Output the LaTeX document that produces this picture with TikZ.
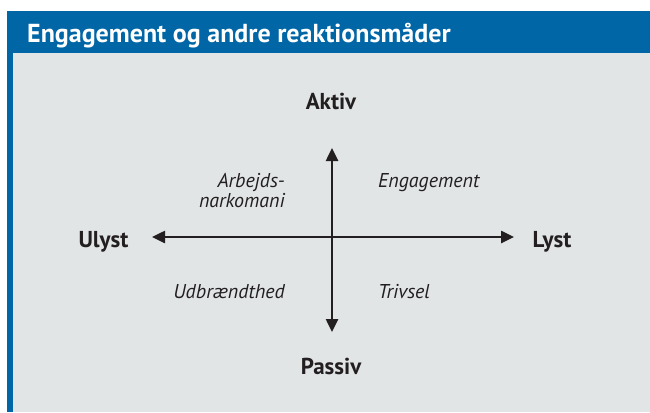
\documentclass[tikz,border=0pt]{standalone}
\usepackage{fontspec}
\setmainfont{PT Sans}
\usetikzlibrary{arrows.meta}
\definecolor{headblue}{RGB}{0,102,166}
\definecolor{panelgray}{RGB}{225,229,230}
\definecolor{inkblack}{RGB}{35,31,32}
\tikzstyle{pole}=[font=\bfseries\fontsize{23}{26}\selectfont, text=inkblack, anchor=base, inner sep=0pt]
\tikzstyle{quadrant}=[font=\itshape\fontsize{20}{20}\selectfont, text=inkblack, inner sep=0pt]
\tikzstyle{axis}=[draw=inkblack, line width=2.5pt, {Triangle[length=13pt,width=12pt]}-{Triangle[length=13pt,width=12pt]}]

\begin{document}
\begin{tikzpicture}[x=1pt, y=-1pt]
    % frame: header bar, left rule and grey panel
    \useasboundingbox (0,0) rectangle (650,412);
    \fill[white] (0,0) rectangle (650,412);
    \fill[headblue] (7,11) rectangle (650,53);
    \fill[headblue] (7,53) rectangle (13,412);
    \fill[panelgray] (13,53) rectangle (650,412);
    \node[anchor=base west, inner sep=0pt, text=white, font=\bfseries\fontsize{26}{30}\selectfont] (title) at (27,43) {Engagement og andre reaktionsmåder};

    % the two axes
    \coordinate (west) at (152,237);
    \coordinate (east) at (514,237);
    \coordinate (north) at (332,148);
    \coordinate (south) at (332,332);
    \path[axis] (west) -- (east);
    \path[axis] (north) -- (south);

    % labels at the ends of the axes
    \foreach \pos/\name/\txt in {{(331,109)/aktiv/Aktiv}, {(331,374)/passiv/Passiv}, {(103.5,247)/ulyst/Ulyst}, {(552,247)/lyst/Lyst}}
        \node[pole] (\name) at \pos {\txt};

    % the four quadrants
    \node[quadrant, anchor=base east, align=right] (arbejde) at (285,207) {Arbejds-\\narkomani};
    \node[quadrant, anchor=base west] (engagement) at (378,187) {Engagement};
    \node[quadrant, anchor=base east] (udbraendt) at (285,298) {Udbrændthed};
    \node[quadrant, anchor=base west] (trivsel) at (378,298) {Trivsel};
\end{tikzpicture}
\end{document}
